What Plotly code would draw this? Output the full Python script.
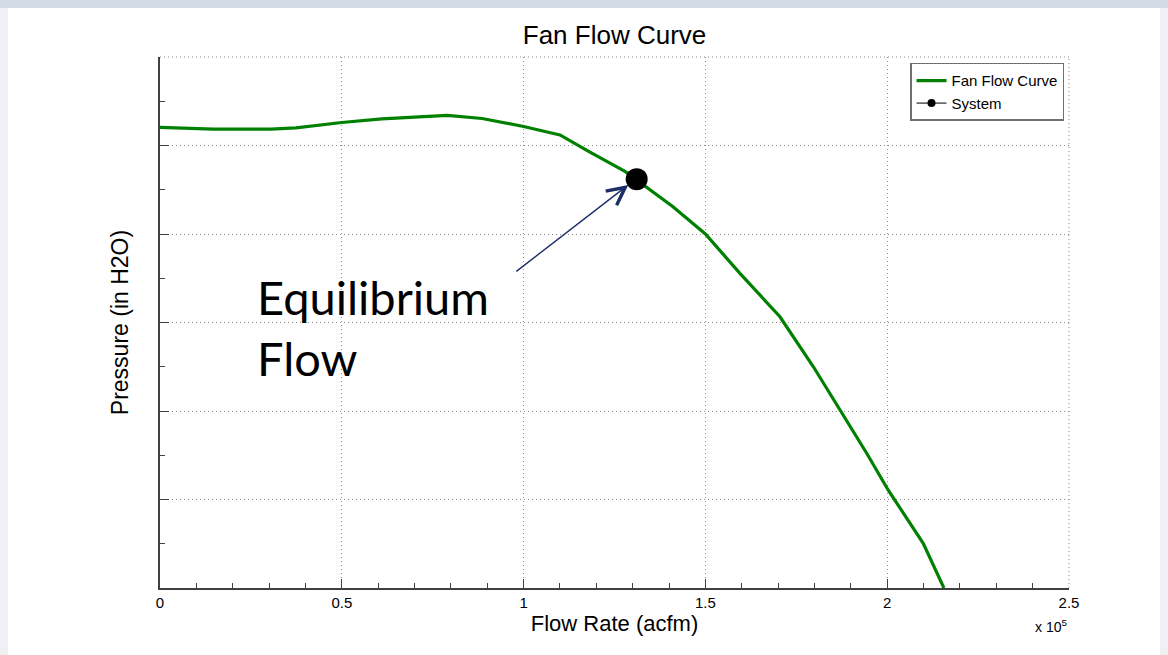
import plotly.graph_objects as go

# ---- data ----
flow_acfm = [0, 14700, 30500, 37400, 50000, 61000, 79000, 88600, 100000, 110000,
             118000, 128000, 141000, 150000, 159500, 170500, 179700, 187000,
             194400, 200300, 209900, 215600]
pressure_inh2o = [10.41, 10.37, 10.37, 10.40, 10.52, 10.60, 10.68, 10.61, 10.43, 10.24,
                  9.86, 9.41, 8.62, 8.00, 7.11, 6.13, 5.00, 4.02,
                  3.04, 2.21, 1.01, 0.0]

system_flow = [131100]
system_pressure = [9.24]

x_tickvals = [0, 50000, 100000, 150000, 200000, 250000]
x_ticktext = ["0", "0.5", "1", "1.5", "2", "2.5"]

arrow_tail = (97600, 7.13)
arrow_tip = (128800, 9.11)
label_pos = (26200, 7.25)

FONT = "Liberation Sans, Arial, sans-serif"
AXC = "#404040"

fig = go.Figure()
fig.add_trace(go.Scatter(
    x=flow_acfm, y=pressure_inh2o, mode="lines", name="Fan Flow Curve",
    line=dict(color="#008000", width=3.2),
))
fig.add_trace(go.Scatter(
    x=system_flow, y=system_pressure, mode="markers", name="System",
    marker=dict(color="black", size=22, symbol="circle"),
    showlegend=False,
))
# legend entry for the System series (line + small marker, as in the reference)
fig.add_trace(go.Scatter(
    x=[None], y=[None], mode="lines+markers", name="System",
    line=dict(color="black", width=1),
    marker=dict(color="black", size=8, symbol="circle"),
))

fig.add_annotation(
    x=arrow_tip[0], y=arrow_tip[1], ax=arrow_tail[0], ay=arrow_tail[1],
    xref="x", yref="y", axref="x", ayref="y", text="",
    showarrow=True, arrowhead=5, arrowsize=2.5, arrowwidth=1.4,
    arrowcolor="#1b2f66",
)
fig.add_annotation(
    x=label_pos[0], y=label_pos[1], xref="x", yref="y",
    xanchor="left", yanchor="top", align="left", showarrow=False,
    text="Equilibrium<br>Flow",
    font=dict(family="Lato, Carlito, sans-serif", size=47, color="black"),
)
fig.add_annotation(
    x=0.98, y=-0.072, xref="paper", yref="paper", showarrow=False,
    xanchor="center", yanchor="middle",
    text="x 10<sup>5</sup>", font=dict(family=FONT, size=14, color="black"),
)

# dotted frame on top and right (grid lines at the range ends)
for x0, y0, x1, y1 in [(0, 1, 1, 1), (1, 0, 1, 1)]:
    fig.add_shape(type="line", xref="paper", yref="paper",
                  x0=x0, y0=y0, x1=x1, y1=y1,
                  line=dict(color="#8c8c8c", width=1, dash="1px,3px"))

grid = dict(showgrid=True, gridcolor="#8c8c8c", griddash="1px,3px", gridwidth=1)

fig.update_layout(
    width=1160, height=647,
    margin=dict(l=152, r=99, t=49, b=67),
    paper_bgcolor="white", plot_bgcolor="white",
    font=dict(family=FONT, color="black"),
    title=dict(text="Fan Flow Curve", x=0.5, xref="paper", xanchor="center",
               y=0.958, yanchor="middle", font=dict(size=26, family=FONT)),
    showlegend=True,
    legend=dict(x=0.9945, y=0.989, xanchor="right", yanchor="top",
                bgcolor="white", bordercolor="#707070", borderwidth=1.5,
                font=dict(size=15, family=FONT),
                itemwidth=30, tracegroupgap=0),
    xaxis=dict(
        range=[0, 250000], tickvals=x_tickvals, ticktext=x_ticktext,
        ticks="inside", ticklen=9, tickwidth=1.2, tickcolor=AXC,
        showline=True, linecolor=AXC, linewidth=1.5,
        minor=dict(dtick=10000, ticks="inside", ticklen=5, tickcolor=AXC,
                   showgrid=False),
        tickfont=dict(size=15), zeroline=False,
        title=dict(text="Flow Rate (acfm)", font=dict(size=22), standoff=2),
        **grid,
    ),
    yaxis=dict(
        range=[0, 12], dtick=2, showticklabels=False,
        ticks="inside", ticklen=9, tickwidth=1.2, tickcolor=AXC,
        showline=True, linecolor=AXC, linewidth=1.5,
        minor=dict(dtick=1, ticks="inside", ticklen=5, tickcolor=AXC,
                   showgrid=False),
        zeroline=False,
        title=dict(text="Pressure (in H2O)", font=dict(size=23), standoff=23),
        **grid,
    ),
)

fig.write_html(
    "out.html",
    post_script="document.body.style.background="
                "'linear-gradient(to bottom, #d3dbe4 0px, #d3dbe4 8px, #eef0f4 8px)';",
)
